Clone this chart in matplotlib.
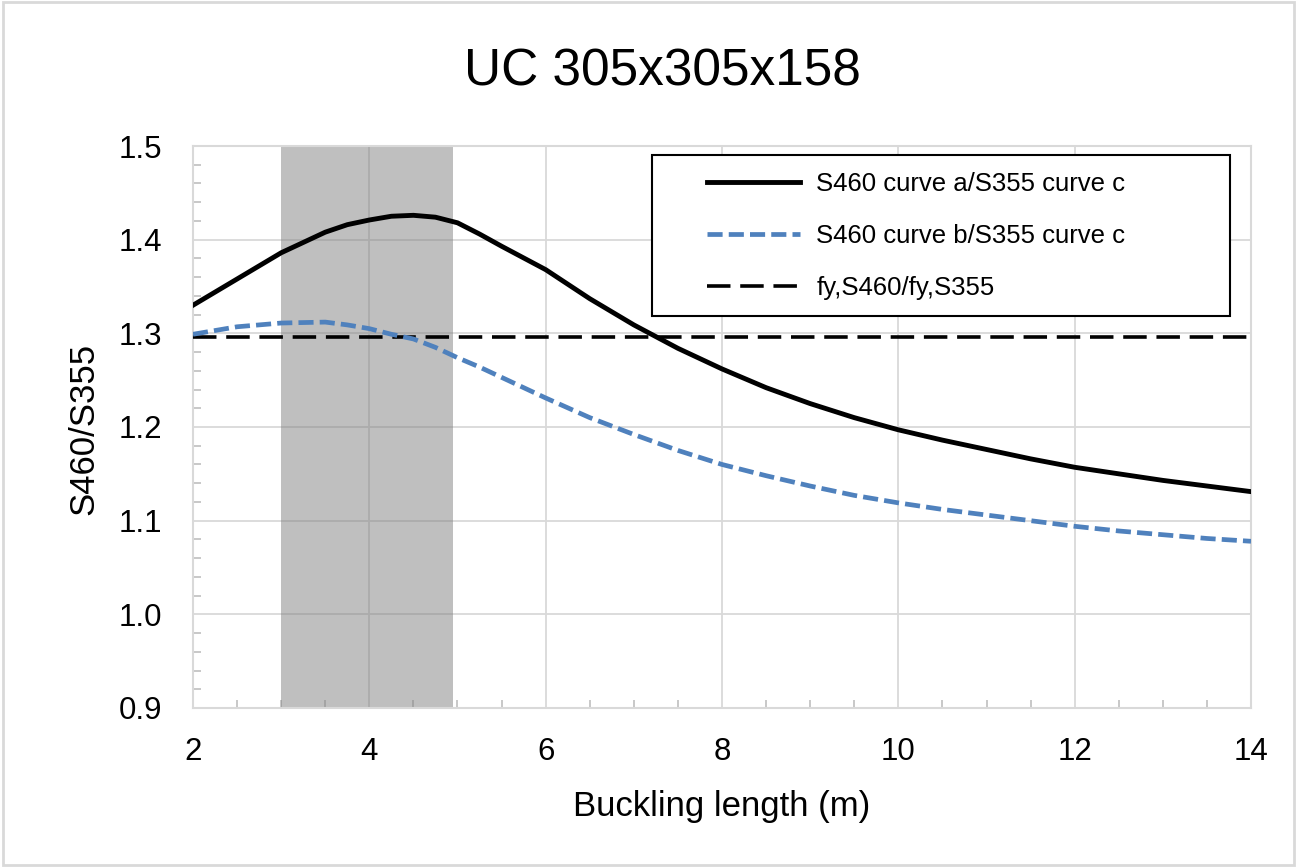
import matplotlib
import matplotlib.pyplot as plt
from matplotlib.ticker import MultipleLocator
from matplotlib.patches import Rectangle

plt.switch_backend('Agg')
plt.rcParams['font.family'] = ['Liberation Sans', 'DejaVu Sans']

# Data
length_m = [2, 2.5, 3, 3.5, 3.75, 4, 4.25, 4.5, 4.75, 5, 5.25, 5.5, 6, 6.5, 7, 7.5,
            8, 8.5, 9, 9.5, 10, 10.5, 11, 11.5, 12, 12.5, 13, 13.5, 14]
ratio_a = [1.330, 1.358, 1.386, 1.408, 1.416, 1.421, 1.425, 1.426, 1.424, 1.418, 1.406, 1.393,
           1.368, 1.337, 1.309, 1.284, 1.262, 1.242, 1.225, 1.210, 1.197, 1.186,
           1.176, 1.166, 1.157, 1.150, 1.143, 1.137, 1.131]
ratio_b = [1.299, 1.307, 1.311, 1.312, 1.309, 1.305, 1.299, 1.294, 1.285, 1.274, 1.264, 1.253,
           1.231, 1.210, 1.192, 1.175, 1.160, 1.148, 1.137, 1.127, 1.119, 1.112,
           1.106, 1.100, 1.094, 1.089, 1.085, 1.081, 1.078]
fy_ratio = 460 / 355
shade_range = (3.0, 4.95)

labels = ['S460 curve a/S355 curve c', 'S460 curve b/S355 curve c', 'fy,S460/fy,S355']
title = 'UC 305x305x158'


def main():
    fig = plt.figure(figsize=(12.97, 8.67), dpi=100)
    ax = fig.add_axes([193 / 1297, 1 - 708 / 867, 1058 / 1297, 562 / 867])

    # Grey band
    ax.axvspan(*shade_range, color='#808080', alpha=0.5, lw=0, zorder=2)

    ax.plot(length_m, ratio_a, color='black', lw=3.5, label=labels[0], zorder=4)
    ax.plot(length_m, ratio_b, color='#4f81bd', lw=3.4, dashes=(3.2, 1.3),
            label=labels[1], zorder=4)
    ax.plot([length_m[0], length_m[-1]], [fy_ratio, fy_ratio], color='black', lw=2.6,
            dashes=(6.5, 2.7), label=labels[2], zorder=3)

    ax.set_xlim(2, 14)
    ax.set_ylim(0.9, 1.5)
    ax.xaxis.set_major_locator(MultipleLocator(2))
    ax.xaxis.set_minor_locator(MultipleLocator(0.5))
    ax.yaxis.set_major_locator(MultipleLocator(0.1))
    ax.yaxis.set_minor_locator(MultipleLocator(0.02))
    ax.yaxis.set_major_formatter(matplotlib.ticker.FormatStrFormatter('%.1f'))

    ax.grid(True, which='major', color='#d9d9d9', lw=1.3, zorder=1)
    ax.set_axisbelow(True)
    for s in ax.spines.values():
        s.set_color('#d9d9d9')
        s.set_linewidth(1.5)

    ax.tick_params(which='major', length=0, labelsize=22.5)
    ax.tick_params(axis='x', which='major', pad=21)
    ax.tick_params(axis='y', which='major', pad=22)
    ax.tick_params(which='minor', direction='in', length=6, width=1.2, color='#bfbfbf')

    ax.set_xlabel('Buckling length (m)', fontsize=25, va='center')
    ax.xaxis.set_label_coords(0.5, -0.176)
    ax.set_ylabel('S460/S355', fontsize=25, va='center')
    ax.yaxis.set_label_coords(-0.103, 0.496)

    fig.text(662 / 1297, 1 - 72 / 867, title, fontsize=37, ha='center', va='center')

    # Legend box drawn separately (Excel style: wide box, entries indented)
    ax.add_patch(Rectangle((0.434, 0.697), 0.546, 0.287, transform=ax.transAxes,
                           facecolor='white', edgecolor='black', lw=1.5, zorder=5))
    leg = ax.legend(loc='upper left', bbox_to_anchor=(0.486, 0.953), frameon=False,
                    fontsize=18.5, handlelength=3.6, handletextpad=0.65,
                    labelspacing=1.08, borderpad=0, borderaxespad=0)
    leg.set_zorder(6)

    # Outer chart border
    fig.patches.append(Rectangle((0.002, 0.002), 0.996, 0.996, transform=fig.transFigure,
                                 fill=False, edgecolor='#d9d9d9', lw=2))

    fig.savefig('out.png', dpi=100)


if __name__ == '__main__':
    main()
